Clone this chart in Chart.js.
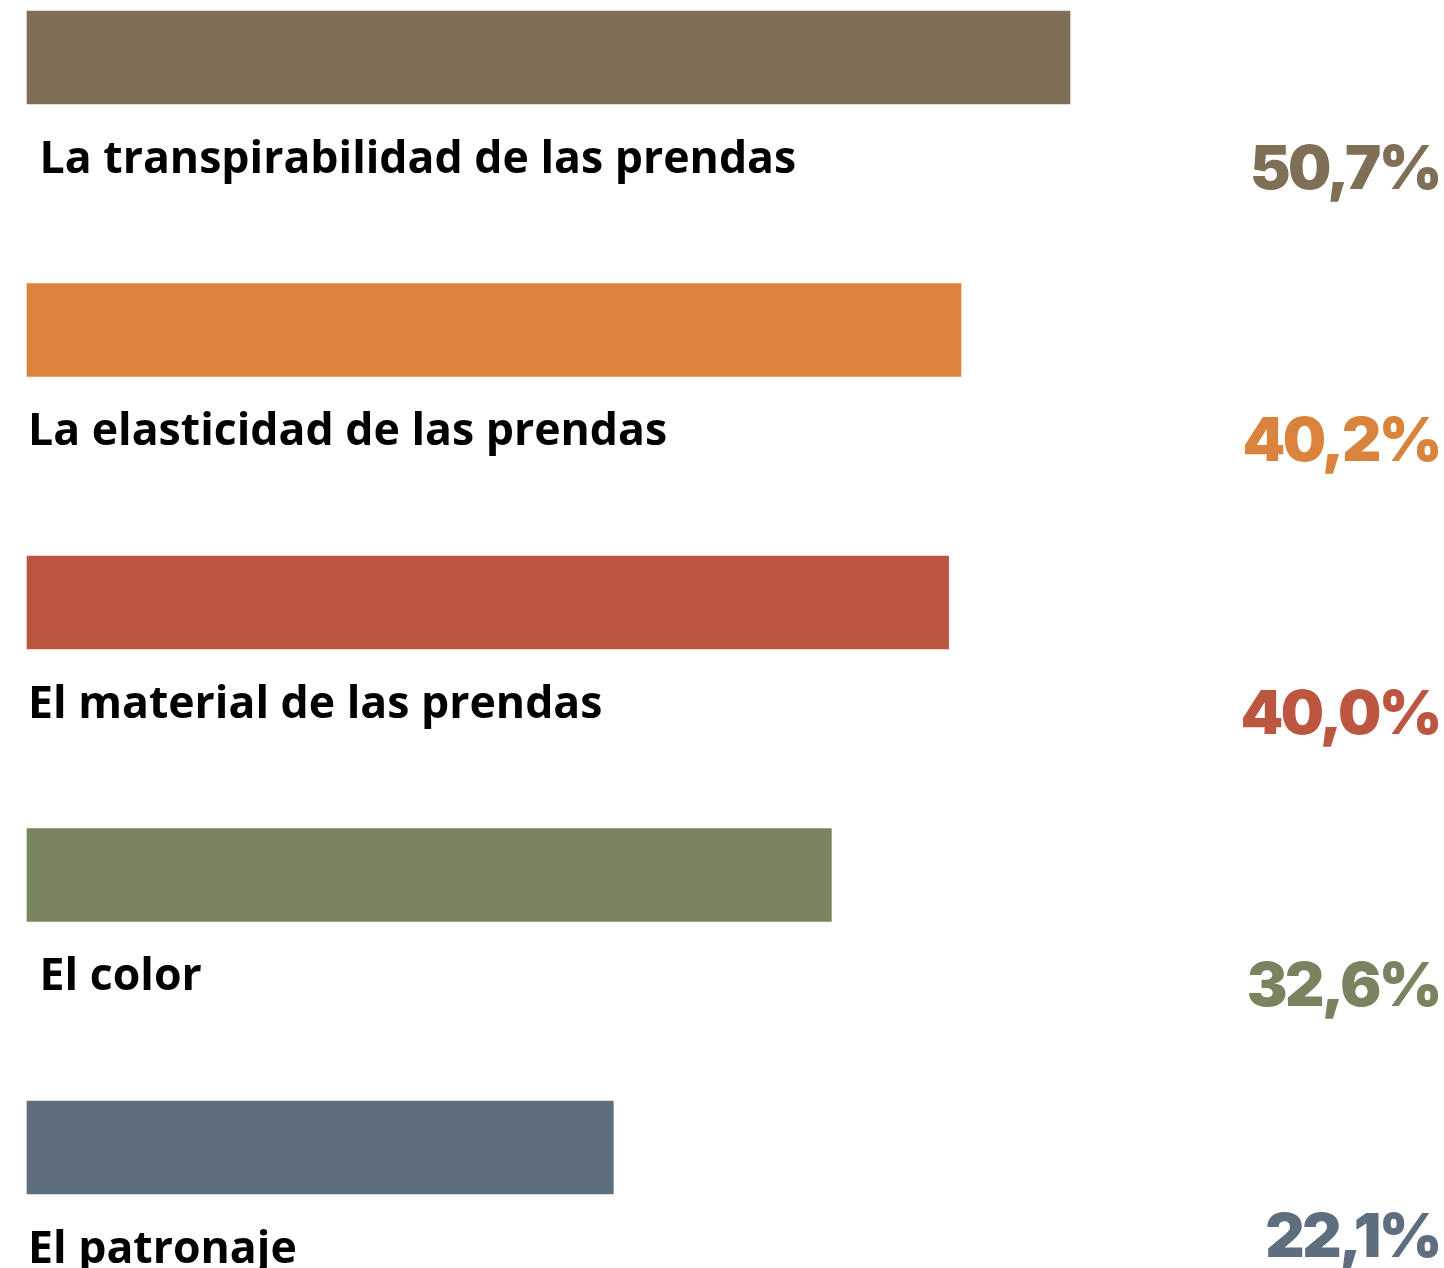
<!DOCTYPE html>
<html>
<head>
<meta charset="utf-8">
<script src="https://cdn.jsdelivr.net/npm/chart.js@4/dist/chart.umd.min.js"></script>
<style>
  html, body { margin: 0; padding: 0; background: #ffffff; }
  #wrap { width: 1444px; height: 1268px; position: relative; }
</style>
</head>
<body>
<div id="wrap"><canvas id="c" width="1444" height="1268"></canvas></div>
<script>
// Categories (as printed)
const categories = [
  " La transpirabilidad de las prendas",
  "La elasticidad de las prendas",
  "El material de las prendas",
  " El color",
  "El patronaje"
];
// Printed percentages
const percentValues = [50.7, 40.2, 40.0, 32.6, 22.1];
// Bar lengths as drawn in the picture (same units, first bar = 50.7)
const barLengths = [50.7, 45.4, 44.8, 39.1, 28.5];
// Colours
const barColors = ["#7f6f56", "#d9833c", "#bd5640", "#77845f", "#5f6e7e"];

function fmtPct(v) {
  return v.toFixed(1).replace(".", ",") + "%";
}

const labelPlugin = {
  id: "labelPlugin",
  afterDatasetsDraw(chart) {
    const ctx = chart.ctx;
    const y = chart.scales.y;
    const H = chart.height;
    ctx.save();
    for (let i = 0; i < categories.length; i++) {
      const cy = y.getPixelForValue(i);
      ctx.textBaseline = "alphabetic";
      ctx.textAlign = "left";
      ctx.fillStyle = "#000000";
      ctx.letterSpacing = "0px";
      ctx.font = "700 44.6px 'Open Sans'";
      ctx.fillText(categories[i], 28, cy + 115);
      ctx.textAlign = "right";
      ctx.fillStyle = barColors[i];
      ctx.font = "900 61px Inter";
      ctx.letterSpacing = "-2.5px";
      ctx.fillText(fmtPct(percentValues[i]), 1440, Math.min(cy + 131, H - 11));
    }
    ctx.restore();
  }
};

new Chart(document.getElementById("c"), {
  type: "bar",
  data: {
    labels: categories,
    datasets: [{
      data: barLengths,
      backgroundColor: barColors,
      borderWidth: 0,
      barThickness: 93,
      clip: false
    }]
  },
  options: {
    indexAxis: "y",
    responsive: false,
    animation: false,
    devicePixelRatio: 1,
    layout: { padding: { left: 27, right: 374, top: 57.5, bottom: 120.5 } },
    plugins: { legend: { display: false }, tooltip: { enabled: false } },
    scales: {
      x: { display: false, min: 0, max: 50.7, grid: { display: false } },
      y: { display: false, offset: false, grid: { display: false } }
    }
  },
  plugins: [labelPlugin]
});
</script>
</body>
</html>
